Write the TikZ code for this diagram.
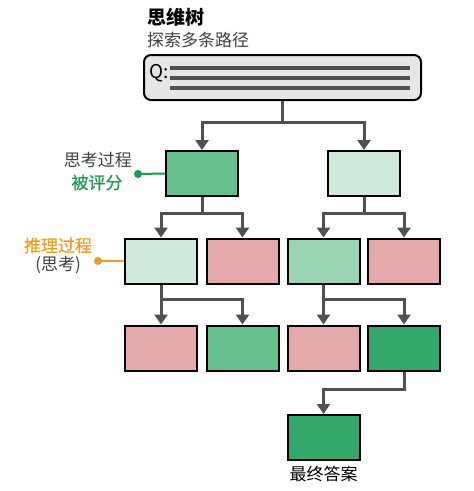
\documentclass[tikz,border=0pt]{standalone}
\usepackage{fontspec}
\setmainfont{Noto Sans CJK SC}
\newfontfamily\medfont[FakeBold=0.4]{Noto Sans CJK SC}
\usetikzlibrary{arrows.meta}
\definecolor{cgray}{HTML}{505050}
\definecolor{qfill}{HTML}{E6E6E6}
\definecolor{gdark}{HTML}{34A86A}
\definecolor{gmid}{HTML}{66C08E}
\definecolor{gsoft}{HTML}{9BD4B5}
\definecolor{glight}{HTML}{CFE9DA}
\definecolor{pinkc}{HTML}{E4A9AB}
\definecolor{scoreg}{HTML}{1A9850}
\definecolor{orangec}{HTML}{F39C1F}
\tikzset{
  thought/.style={draw=black, line width=2pt, minimum width=72pt, minimum height=45pt, inner sep=0pt},
  conn/.style={draw=cgray, line width=3pt, -{Triangle[width=13pt,length=10pt]}},
}
\begin{document}
\begin{tikzpicture}[x=1pt, y=-1pt]
            \useasboundingbox (0,0) rectangle (474,491);
            % title
            \node[anchor=west, inner sep=0pt, font=\bfseries\fontsize{19}{19}\selectfont] (title) at (147,17) {思维树};
            \node[anchor=west, inner sep=0pt, text=black!75, font=\fontsize{17}{17}\selectfont] (sub) at (147,40) {探索多条路径};
            % question
            \node[draw=black, line width=2pt, fill=qfill, rounded corners=7pt, minimum width=277pt, minimum height=45pt] (q) at (282.5,77.5) {};
            \node[font=\fontsize{19}{19}\selectfont] (qlabel) at (159,73) {Q:};
            \draw[cgray, line width=4.5pt] (170,68) -- (410,68);
            \draw[cgray, line width=4.5pt] (170,78) -- (410,78);
            \draw[cgray, line width=4.5pt] (170,88) -- (410,88);
            % level 1
            \node[thought, fill=gmid] (a1) at (202,173.5) {};
            \node[thought, fill=glight] (a2) at (364,173.5) {};
            % level 2
            \node[thought, fill=glight] (b1) at (161,261) {};
            \node[thought, fill=pinkc] (b2) at (242.5,261) {};
            \node[thought, fill=gsoft] (b3) at (323.5,261) {};
            \node[thought, fill=pinkc] (b4) at (404,261) {};
            % level 3
            \node[thought, fill=pinkc] (c1) at (161,348) {};
            \node[thought, fill=gmid] (c2) at (242.5,348) {};
            \node[thought, fill=pinkc] (c3) at (323.5,348) {};
            \node[thought, fill=gdark] (c4) at (404,348) {};
            % answer
            \node[thought, fill=gdark] (d) at (323.5,437.5) {};
            \node[font=\fontsize{17}{17}\selectfont] (dlabel) at (323.5,474) {最终答案};
            % connectors
            \draw[conn] (q.south) -- ++(0,21) -| (a1);
            \draw[conn] (q.south) -- ++(0,21) -| (a2);
            \draw[conn] (a1.south) -- ++(0,16) -| (b1);
            \draw[conn] (a1.south) -- ++(0,16) -| (b2);
            \draw[conn] (a2.south) -- ++(0,16) -| (b3);
            \draw[conn] (a2.south) -- ++(0,16) -| (b4);
            \draw[conn] (b1) -- (c1);
            \draw[conn] (b1.south) -- ++(0,15) -| (c2);
            \draw[conn] (b3) -- (c3);
            \draw[conn] (b3.south) -- ++(0,15) -| (c4);
            \draw[conn] (c4.south) -- ++(0,18) -| (d);
            % annotations
            \node[anchor=east, inner sep=0pt, text=black!75, font=\fontsize{17}{17}\selectfont] (evalA) at (132,160) {思考过程};
            \node[text=scoreg, inner sep=0pt, font=\medfont\fontsize{17}{17}\selectfont] (evalB) at (97,182.5) {被评分};
            \coordinate (gdot) at (138,174);
            \draw[scoreg, line width=2pt] (gdot) -- (a1.west);
            \fill[scoreg] (gdot) circle (4pt);
            \node[text=orangec, inner sep=0pt, font=\medfont\fontsize{17}{17}\selectfont] (reasonA) at (58,245.5) {推理过程};
            \node[text=black!75, inner sep=0pt, font=\fontsize{17}{17}\selectfont] (reasonB) at (58,265) {(思考)};
            \coordinate (odot) at (98,261);
            \draw[orangec, line width=2pt] (odot) -- (b1.west);
            \fill[orangec] (odot) circle (4pt);
        \end{tikzpicture}
\end{document}
